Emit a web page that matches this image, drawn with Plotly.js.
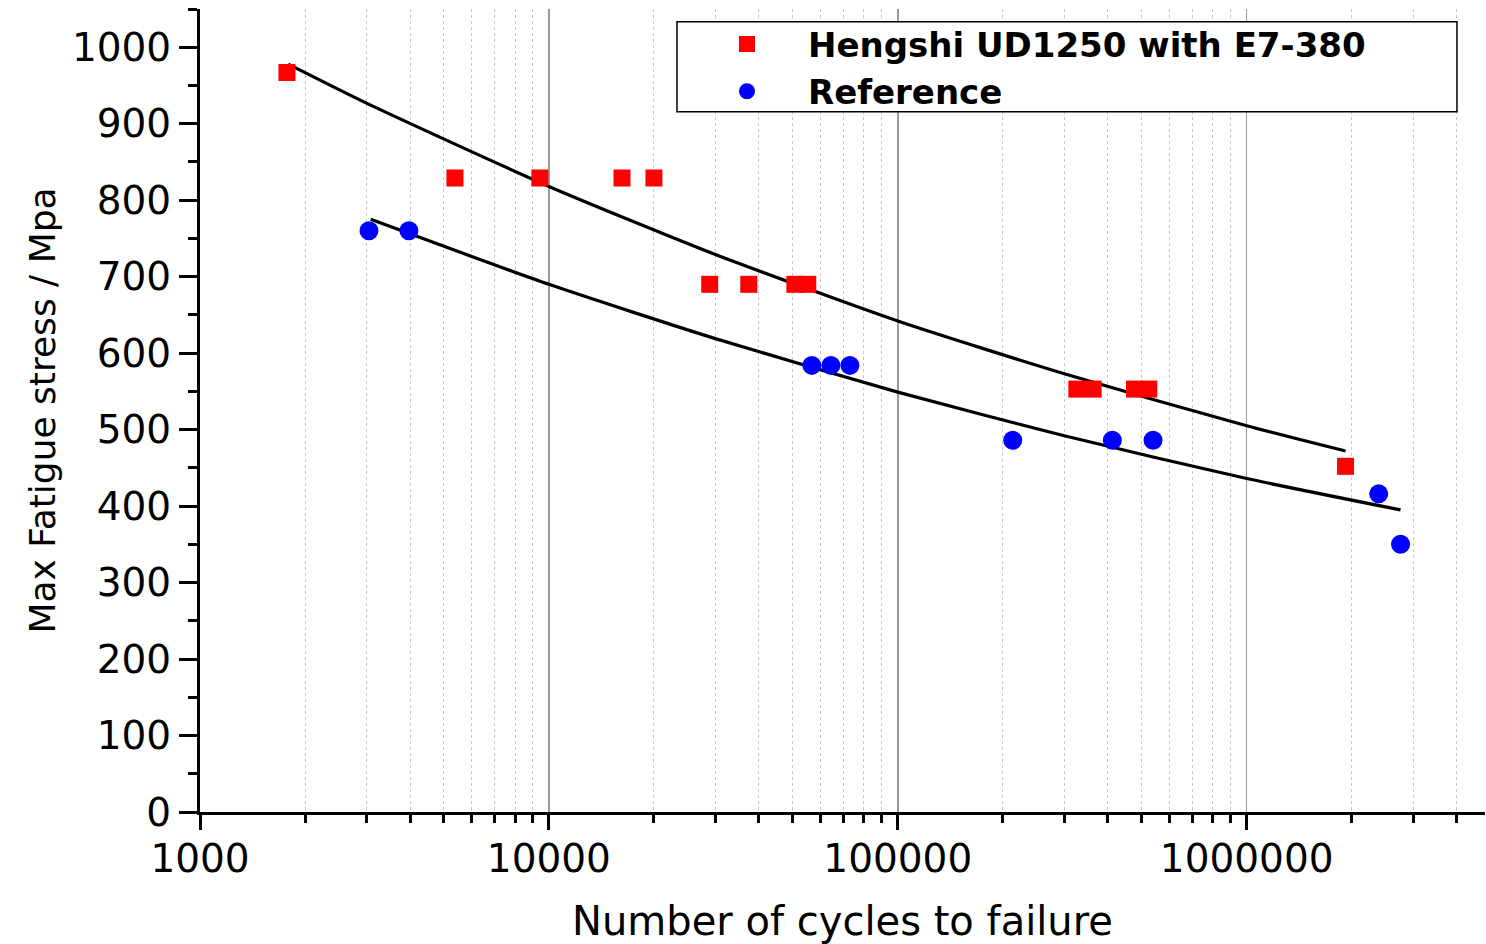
<!DOCTYPE html>
<html>
<head>
<meta charset="utf-8">
<script src="https://cdn.plot.ly/plotly-3.0.1.min.js"></script>
<style>
html, body { margin: 0; padding: 0; background: #fff; }
#chart { width: 1486px; height: 944px; }
</style>
</head>
<body>
<div id="chart"></div>
<script>
// Data
const hengshiName = 'Hengshi UD1250 with E7-380';
const hengshiN = [1775, 5380, 9420, 16200, 20000, 28900, 37400, 50700, 55200, 326000, 363000, 477000, 524000, 1920000];
const hengshiS = [967, 829, 829, 829, 829, 690, 690, 690, 690, 553, 553, 553, 553, 452];

const refName = 'Reference';
const refN = [3050, 3970, 56700, 64300, 72900, 213500, 412000, 539000, 2390000, 2760000];
const refS = [760, 760, 584, 584, 584, 486, 486, 486, 416, 350];

// Fit curves
const hengshiFitN = [1790, 3000, 10000, 30000, 100000, 300000, 1000000, 1920000];
const hengshiFitS = [978, 927, 818, 729, 642, 573, 505, 472];
const refFitN = [3085, 10000, 30000, 100000, 300000, 1000000, 2760000];
const refFitS = [775, 690, 619, 549, 492, 436, 395];

// Axis ticks
const xTickVals = [1000, 10000, 100000, 1000000];
const xTickText = ['1000', '10000', '100000', '1000000'];
const xMinorVals = [2000, 3000, 4000, 5000, 6000, 7000, 8000, 9000,
  20000, 30000, 40000, 50000, 60000, 70000, 80000, 90000,
  200000, 300000, 400000, 500000, 600000, 700000, 800000, 900000,
  2000000, 3000000, 4000000];
const xTitle = 'Number of cycles to failure';
const yTitle = 'Max Fatigue stress / Mpa';

const FONT = 'DejaVu Sans, Liberation Sans, Arial, sans-serif';

const traces = [
  {
    x: hengshiFitN, y: hengshiFitS, mode: 'lines', type: 'scatter',
    line: {color: '#000', width: 3.2, shape: 'spline', smoothing: 0.6},
    showlegend: false, hoverinfo: 'skip'
  },
  {
    x: refFitN, y: refFitS, mode: 'lines', type: 'scatter',
    line: {color: '#000', width: 3.2, shape: 'spline', smoothing: 0.6},
    showlegend: false, hoverinfo: 'skip'
  },
  {
    x: hengshiN, y: hengshiS, mode: 'markers', type: 'scatter', name: hengshiName,
    marker: {symbol: 'square', color: '#FF0000', size: 17}
  },
  {
    x: refN, y: refS, mode: 'markers', type: 'scatter', name: refName,
    marker: {symbol: 'circle', color: '#0000FF', size: 19}
  }
];

const layout = {
  width: 1486, height: 944,
  margin: {l: 200, r: 1, t: 9, b: 132},
  paper_bgcolor: '#fff', plot_bgcolor: '#fff',
  font: {family: FONT, color: '#000'},
  showlegend: true,
  legend: {
    x: 0.3782, xanchor: 'left', y: 0.992, yanchor: 'top',
    bgcolor: 'rgba(0,0,0,0)', borderwidth: 0,
    font: {family: FONT, size: 34, weight: 'bold', color: '#000'},
    itemwidth: 112
  },
  shapes: [{
    type: 'rect', xref: 'paper', yref: 'paper',
    x0: 0.3712, x1: 0.9782, y0: 0.872, y1: 0.984,
    line: {color: '#000', width: 1.5}, fillcolor: '#fff', layer: 'above'
  }],
  xaxis: {
    type: 'log', range: [3, 6.683], autorange: false,
    showline: true, linecolor: '#000', linewidth: 3,
    ticks: 'outside', ticklen: 15, tickwidth: 3, tickcolor: '#000',
    tickmode: 'array', tickvals: xTickVals, ticktext: xTickText,
    tickfont: {family: FONT, size: 39, color: '#000'},
    ticklabelstandoff: -5,
    showgrid: true, gridcolor: '#9a9a9a', gridwidth: 1.5,
    zeroline: false,
    minor: {
      tickmode: 'array', tickvals: xMinorVals,
      ticks: 'outside', ticklen: 8, tickwidth: 3, tickcolor: '#000',
      showgrid: true, gridcolor: '#c8c8c8', griddash: 'dot', gridwidth: 1
    },
    title: {text: xTitle, font: {family: FONT, size: 40, color: '#000'}, standoff: 30}
  },
  yaxis: {
    range: [0, 1050], autorange: false,
    showline: true, linecolor: '#000', linewidth: 3,
    ticks: 'outside', ticklen: 18, tickwidth: 3, tickcolor: '#000',
    tick0: 0, dtick: 100,
    tickfont: {family: FONT, size: 39, color: '#000'},
    showgrid: false, zeroline: false,
    minor: {dtick: 50, ticks: 'outside', ticklen: 9, tickwidth: 3, tickcolor: '#000', showgrid: false},
    title: {text: yTitle, font: {family: FONT, size: 36, color: '#000'}, standoff: 6}
  }
};

Plotly.newPlot('chart', traces, layout, {displayModeBar: false, staticPlot: true});
</script>
</body>
</html>
